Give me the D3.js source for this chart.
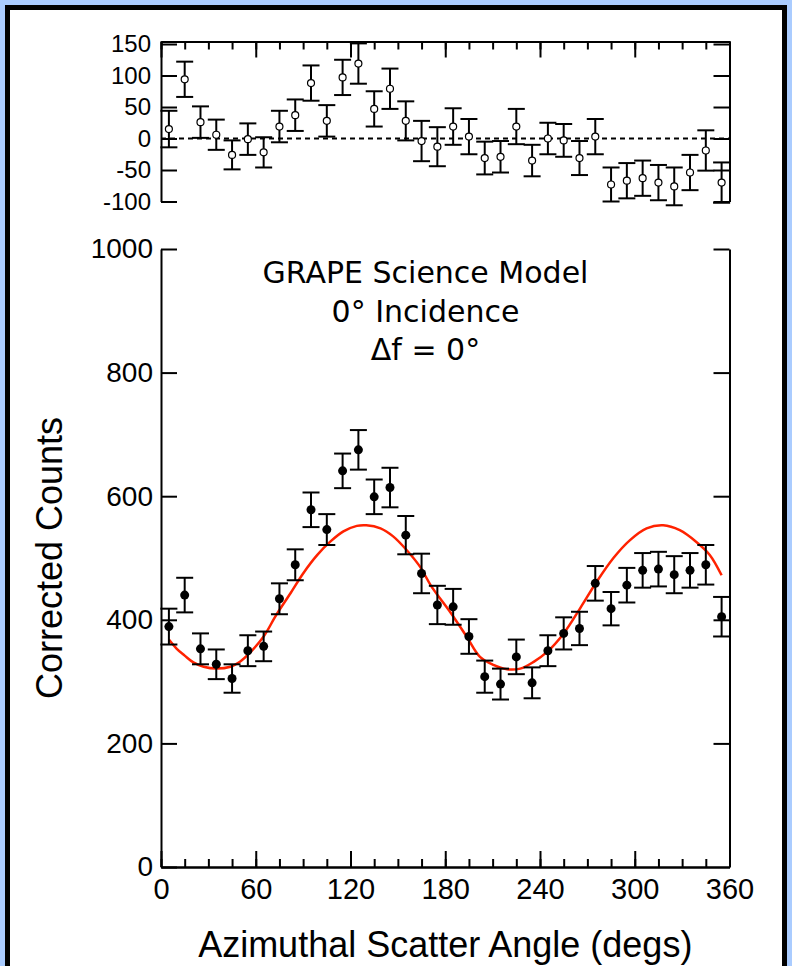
<!DOCTYPE html>
<html>
<head>
<meta charset="utf-8">
<script src="https://cdn.jsdelivr.net/npm/d3@7"></script>
<style>
  body { margin: 0; background: #aaccff; }
  svg { display: block; }
  .tick text { font-family: "Liberation Sans", Arial, sans-serif; fill: #000; }
</style>
</head>
<body>
<svg id="chart" width="792" height="966"></svg>
<script>
// bin centres, degrees
var angles = [5, 15, 25, 35, 45, 55, 65, 75, 85, 95, 105, 115, 125, 135, 145, 155, 165, 175,
              185, 195, 205, 215, 225, 235, 245, 255, 265, 275, 285, 295, 305, 315, 325, 335, 345, 355];
// corrected counts per bin
var counts = [389, 440, 353, 328, 305, 350, 357, 434, 489, 578, 546, 641, 675, 599, 614, 537, 475, 424,
              421, 373, 308, 296, 340, 298, 350, 378, 386, 459, 418, 456, 480, 482, 473, 480, 489, 405];
var countErr = [29, 28, 25, 24, 23, 25, 24, 25, 25, 28, 25, 28, 32, 28, 32, 31, 32, 31,
                29, 28, 26, 25, 28, 25, 25, 26, 27, 28, 27, 28, 28, 28, 30, 28, 32, 32];
// residuals (data - model), top panel
var resid = [15, 94, 26, 6, -26, -1, -22, 19, 37, 88, 28, 97, 119, 47, 79, 28, -4, -13,
             19, 3, -31, -29, 19, -35, 0, -3, -31, 3, -73, -67, -63, -70, -76, -54, -19, -70];
// GRAPE model curve
var modelAngles = [5, 10, 15, 20.5, 27, 35, 44, 50, 56, 65, 73, 82, 90, 99, 107, 115.5, 124, 130,
                   139, 147, 155.5, 164, 171, 183, 193.5, 202, 210.5, 219, 227.5, 236, 244.5, 255,
                   265.5, 276, 286.5, 297, 307.5, 318, 328.5, 339, 347.5, 355];
var modelCounts = [368, 353, 342, 331, 324, 321, 324, 332, 346, 373, 408, 443, 475, 505, 526, 543, 552, 553,
                   548, 535, 513, 486, 455, 413, 373, 340, 327, 320, 321, 332, 348, 378,
                   419, 462, 500, 529, 548, 553, 545, 526, 505, 472];

var xMajor = [0, 60, 120, 180, 240, 300, 360];
var xMinor = [0, 15, 30, 45, 60, 75, 90, 105, 120, 135, 150, 165, 180, 195, 210, 225, 240, 255,
              270, 285, 300, 315, 330, 345, 360];
var countTicks = [0, 200, 400, 600, 800, 1000];
var countTicksRight = [200, 400, 600, 800, 1000];
var residTicks = [-100, -50, 0, 50, 100, 150];
var titleLines = ["GRAPE Science Model", "0\u00B0 Incidence", "\u0394f = 0\u00B0"];

var W = 792, H = 966;
var svg = d3.select("#chart");
var plain = function(d) { return String(d); };

// page frame
svg.append("rect").attr("x", 0).attr("y", 0).attr("width", W).attr("height", H).attr("fill", "#aaccff");
svg.append("rect").attr("x", 5).attr("y", 5).attr("width", 782).attr("height", H + 10).attr("fill", "#000");
svg.append("rect").attr("x", 10).attr("y", 10).attr("width", 772).attr("height", H + 10).attr("fill", "#fff");

var x = d3.scaleLinear().domain([0, 360]).range([161, 729.5]);
var yMain = d3.scaleLinear().domain([0, 1000]).range([867, 249]);
var yRes = d3.scaleLinear().domain([-100, 154]).range([201.5, 41.5]);

function styleAxis(g) {
  g.selectAll("path.domain").attr("stroke", "#000").attr("stroke-width", 2);
  g.selectAll(".tick line").attr("stroke", "#000").attr("stroke-width", 2);
}

// ---- main panel ----
var bMinor = svg.append("g").attr("transform", "translate(0," + yMain(0) + ")")
  .call(d3.axisBottom(x).tickValues(xMinor).tickSize(-8).tickSizeOuter(0).tickFormat(""));
styleAxis(bMinor);
var bMajor = svg.append("g").attr("transform", "translate(0," + yMain(0) + ")")
  .call(d3.axisBottom(x).tickValues(xMajor).tickSize(-16).tickSizeOuter(0).tickPadding(11).tickFormat(plain));
styleAxis(bMajor);
bMajor.selectAll(".tick text").attr("font-size", 29);

var lAx = svg.append("g").attr("transform", "translate(" + x(0) + ",0)")
  .call(d3.axisLeft(yMain).tickValues(countTicks).tickSize(-16).tickSizeOuter(0).tickPadding(8).tickFormat(plain));
styleAxis(lAx);
lAx.selectAll(".tick text").attr("font-size", 28);

var rAx = svg.append("g").attr("transform", "translate(" + x(360) + ",0)")
  .call(d3.axisRight(yMain).tickValues(countTicksRight).tickSize(-16).tickSizeOuter(0).tickFormat(""));
styleAxis(rAx);

// model curve
var line = d3.line()
  .x(function(d, i) { return x(modelAngles[i]); })
  .y(function(d) { return yMain(d); })
  .curve(d3.curveCatmullRom);
svg.append("path").datum(modelCounts).attr("d", line)
  .attr("fill", "none").attr("stroke", "#ff2200").attr("stroke-width", 2.5);

// error bars + points
var capW = 8.5;
var mainG = svg.append("g");
var eb = mainG.selectAll("g.eb").data(counts).enter().append("g").attr("class", "eb");
eb.append("line")
  .attr("x1", function(d, i) { return x(angles[i]); }).attr("x2", function(d, i) { return x(angles[i]); })
  .attr("y1", function(d, i) { return yMain(d + countErr[i]); })
  .attr("y2", function(d, i) { return yMain(d - countErr[i]); });
eb.append("line")
  .attr("x1", function(d, i) { return x(angles[i]) - capW; }).attr("x2", function(d, i) { return x(angles[i]) + capW; })
  .attr("y1", function(d, i) { return yMain(d + countErr[i]); })
  .attr("y2", function(d, i) { return yMain(d + countErr[i]); });
eb.append("line")
  .attr("x1", function(d, i) { return x(angles[i]) - capW; }).attr("x2", function(d, i) { return x(angles[i]) + capW; })
  .attr("y1", function(d, i) { return yMain(d - countErr[i]); })
  .attr("y2", function(d, i) { return yMain(d - countErr[i]); });
eb.selectAll("line").attr("stroke", "#000").attr("stroke-width", 2);
eb.append("circle")
  .attr("cx", function(d, i) { return x(angles[i]); })
  .attr("cy", function(d) { return yMain(d); })
  .attr("r", 4.5).attr("fill", "#000");

// ---- residual panel ----
var tMinor = svg.append("g").attr("transform", "translate(0," + yRes(154) + ")")
  .call(d3.axisTop(x).tickValues(xMinor).tickSize(-8).tickSizeOuter(0).tickFormat(""));
styleAxis(tMinor);
var tMajor = svg.append("g").attr("transform", "translate(0," + yRes(154) + ")")
  .call(d3.axisTop(x).tickValues(xMajor).tickSize(-16).tickSizeOuter(0).tickFormat(""));
styleAxis(tMajor);

var rl = svg.append("g").attr("transform", "translate(" + x(0) + ",0)")
  .call(d3.axisLeft(yRes).tickValues(residTicks).tickSize(-16).tickSizeOuter(0).tickPadding(10).tickFormat(plain));
styleAxis(rl);
rl.selectAll(".tick text").attr("font-size", 24);

var rr = svg.append("g").attr("transform", "translate(" + x(360) + ",0)")
  .call(d3.axisRight(yRes).tickValues(residTicks).tickSize(-16).tickSizeOuter(0).tickFormat(""));
styleAxis(rr);

// zero reference
svg.append("line")
  .attr("x1", x(0)).attr("x2", x(360)).attr("y1", yRes(0)).attr("y2", yRes(0))
  .attr("stroke", "#000").attr("stroke-width", 2).attr("stroke-dasharray", "5,4");

var rg = svg.append("g");
var reb = rg.selectAll("g.reb").data(resid).enter().append("g").attr("class", "reb");
reb.append("line")
  .attr("x1", function(d, i) { return x(angles[i]); }).attr("x2", function(d, i) { return x(angles[i]); })
  .attr("y1", function(d, i) { return yRes(d + countErr[i]); })
  .attr("y2", function(d, i) { return yRes(d - countErr[i]); });
reb.append("line")
  .attr("x1", function(d, i) { return x(angles[i]) - capW; }).attr("x2", function(d, i) { return x(angles[i]) + capW; })
  .attr("y1", function(d, i) { return yRes(d + countErr[i]); })
  .attr("y2", function(d, i) { return yRes(d + countErr[i]); });
reb.append("line")
  .attr("x1", function(d, i) { return x(angles[i]) - capW; }).attr("x2", function(d, i) { return x(angles[i]) + capW; })
  .attr("y1", function(d, i) { return yRes(d - countErr[i]); })
  .attr("y2", function(d, i) { return yRes(d - countErr[i]); });
reb.selectAll("line").attr("stroke", "#000").attr("stroke-width", 2);
reb.append("circle")
  .attr("cx", function(d, i) { return x(angles[i]); })
  .attr("cy", function(d) { return yRes(d); })
  .attr("r", 3.5).attr("fill", "#fff").attr("stroke", "#000").attr("stroke-width", 1.2);

// ---- text ----
svg.selectAll("text.note").data(titleLines).enter().append("text")
  .attr("class", "note")
  .attr("x", 425.5)
  .attr("y", function(d, i) { return 283 + i * 38.5; })
  .attr("text-anchor", "middle")
  .attr("font-family", "DejaVu Sans, Verdana, sans-serif")
  .attr("font-size", 30)
  .text(function(d) { return d; });

svg.append("text")
  .attr("transform", "translate(62," + ((yMain(0) + yMain(1000)) / 2) + ") rotate(-90)")
  .attr("text-anchor", "middle")
  .attr("font-family", "Liberation Sans, Arial, sans-serif")
  .attr("font-size", 36)
  .text("Corrected Counts");

svg.append("text")
  .attr("x", (x(0) + x(360)) / 2)
  .attr("y", 957)
  .attr("text-anchor", "middle")
  .attr("font-family", "Liberation Sans, Arial, sans-serif")
  .attr("font-size", 36)
  .text("Azimuthal Scatter Angle (degs)");
</script>
</body>
</html>
